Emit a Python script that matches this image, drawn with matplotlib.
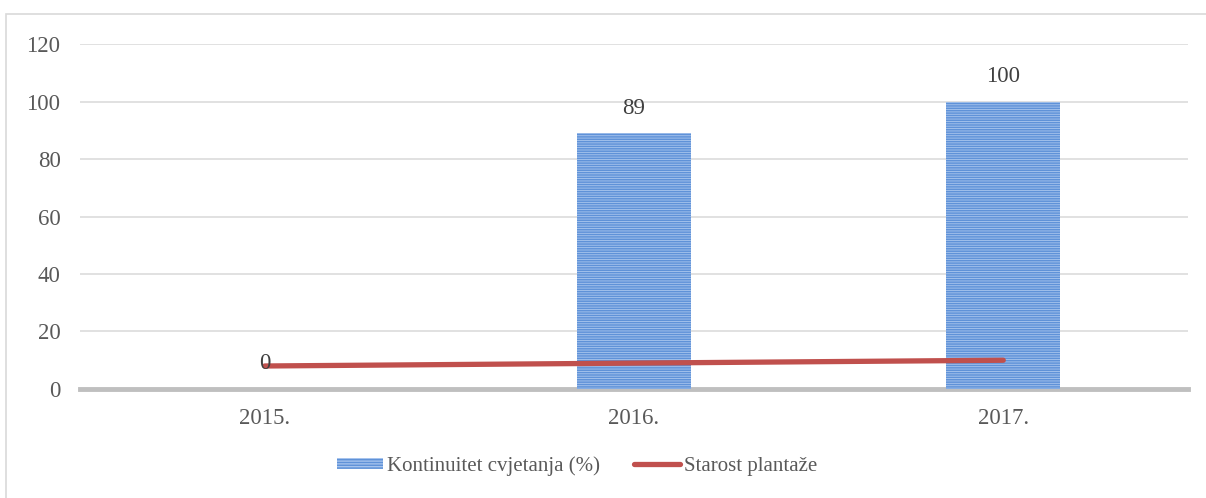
import matplotlib
matplotlib.use("Agg")
import matplotlib.pyplot as plt
from matplotlib.patches import Rectangle, Patch
from matplotlib.lines import Line2D

years = ["2015.", "2016.", "2017."]
kontinuitet = [0, 89, 100]
starost = [8, 9, 10]
y_ticks = [0, 20, 40, 60, 80, 100, 120]

plt.rcParams['font.family'] = ['Liberation Serif', 'DejaVu Serif']
plt.rcParams['hatch.linewidth'] = 1.1

fig = plt.figure(figsize=(12.06, 4.98), dpi=100)
ax = fig.add_axes([0.0663, 0.2189, 0.9187, 0.6927])

# outer frame of the chart area
fig.patches.append(Rectangle((6 / 1206, -0.05), 1.2, 1 - 14 / 498 + 0.05,
                             transform=fig.transFigure, fill=False,
                             edgecolor='#d9d9d9', linewidth=1.2))

x = list(range(len(years)))
bar_face = '#aac6ee'
bar_stripe = '#5f92d8'
bars = ax.bar(x, kontinuitet, width=0.31, color=bar_face, edgecolor=bar_stripe,
              hatch='-------', linewidth=0, zorder=2)

for xi, v in zip(x, kontinuitet):
    ax.annotate(str(v), (xi, v), xytext=(0, 18), textcoords='offset points',
                ha='center', va='center', fontsize=16.5, color='#404040', zorder=4)

line_color = '#c0504d'
ax.plot(x, starost, color=line_color, linewidth=3.8, solid_capstyle='round', zorder=3)

ax.set_xlim(-0.5, 2.5)
ax.set_ylim(0, 120)
ax.set_yticks(y_ticks)
ax.set_xticks(x)
ax.set_xticklabels(years)
ax.tick_params(axis='both', length=0, labelsize=16.5, labelcolor='#595959')
ax.tick_params(axis='y', pad=14)
ax.tick_params(axis='x', pad=14)
ax.grid(axis='y', color='#d9d9d9', linewidth=1.1, zorder=0)
ax.set_axisbelow(True)
for s in ['top', 'right', 'left']:
    ax.spines[s].set_visible(False)
ax.spines['bottom'].set_color('#bfbfbf')
ax.spines['bottom'].set_linewidth(3.5)
ax.spines['bottom'].set_zorder(1)

handles = [Patch(facecolor=bar_face, edgecolor=bar_stripe, hatch='------', linewidth=0),
           Line2D([0], [0], color=line_color, linewidth=3.8, solid_capstyle='round')]
labels = ["Kontinuitet cvjetanja (%)", "Starost plantaže"]
fig.legend(handles, labels, loc='center left', bbox_to_anchor=(337 / 1206, 1 - 466 / 498),
           ncol=2, frameon=False, fontsize=15, labelcolor='#595959',
           borderpad=0, borderaxespad=0,
           handlelength=2.2, handletextpad=0.2, columnspacing=1.65,
           handleheight=0.5)

fig.savefig("out.png", dpi=100)
